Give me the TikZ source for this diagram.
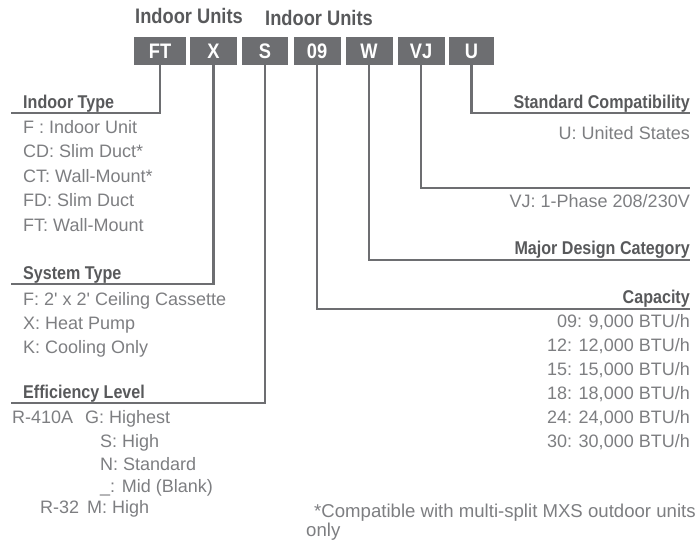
\documentclass[tikz,border=0pt]{standalone}
\usepackage{fontspec}
\setmainfont{Liberation Sans}
\newfontfamily\headfont{Liberation Sans}[FakeStretch=0.87]
\usepackage{xcolor}
\definecolor{boxgray}{RGB}{109,110,113}
\definecolor{headgray}{RGB}{88,89,91}
\definecolor{textgray}{RGB}{125,126,129}

\begin{document}
\begin{tikzpicture}[x=1pt, y=-1pt,
    codebox/.style={rectangle, fill=boxgray, text=white, minimum height=28pt,
                    inner sep=0pt, font=\headfont\bfseries\fontsize{21}{21}\selectfont},
    titlebase/.style={anchor=base west, inner sep=0pt, text=headgray,
                      font=\headfont\bfseries\fontsize{21}{21}\selectfont},
    headbase/.style={inner sep=0pt, text=headgray,
                     font=\headfont\bfseries\fontsize{18.5}{18.5}\selectfont},
    itembase/.style={inner sep=0pt, text=textgray, font=\fontsize{18}{18}\selectfont},
    link/.style={draw=boxgray, line width=2.5pt},
]
    \useasboundingbox (0,0) rectangle (700,544);

    % Titles
    \node[titlebase] (title1) at (135,23) {Indoor Units};
    \node[titlebase] (title2) at (265,25) {Indoor Units};

    % Code boxes
    \node[codebox, minimum width=52pt] (bFT) at (160,51) {FT};
    \node[codebox, minimum width=47pt] (bX) at (213.5,51) {X};
    \node[codebox, minimum width=46pt] (bS) at (265,51) {S};
    \node[codebox, minimum width=47pt] (b09) at (317,51) {09};
    \node[codebox, minimum width=47pt] (bW) at (369,51) {W};
    \node[codebox, minimum width=47pt] (bVJ) at (421,51) {VJ};
    \node[codebox, minimum width=45pt] (bU) at (471.5,51) {U};

    % Left column: indoor type
    \node[headbase, anchor=base west] (hIndoor) at (23,108) {Indoor Type};
    \node[itembase, anchor=base west] (iF) at (23,133) {F : Indoor Unit};
    \node[itembase, anchor=base west] (iCD) at (23,157.5) {CD: Slim Duct*};
    \node[itembase, anchor=base west] (iCT) at (23,182) {CT: Wall-Mount*};
    \node[itembase, anchor=base west] (iFD) at (23,206.5) {FD: Slim Duct};
    \node[itembase, anchor=base west] (iFT) at (23,231) {FT: Wall-Mount};

    % Left column: system type
    \node[headbase, anchor=base west] (hSystem) at (23,279) {System Type};
    \node[itembase, anchor=base west] (sF) at (23,305) {F: 2\textquotesingle{} x 2\textquotesingle{} Ceiling Cassette};
    \node[itembase, anchor=base west] (sX) at (23,329) {X: Heat Pump};
    \node[itembase, anchor=base west] (sK) at (23,353) {K: Cooling Only};

    % Left column: efficiency level
    \node[headbase, anchor=base west] (hEff) at (23,398) {Efficiency Level};
    \node[itembase, anchor=base west] (r410) at (12,423) {R-410A};
    \node[itembase, anchor=base west] (eG) at (85,423) {G: Highest};
    \node[itembase, anchor=base west] (eS) at (100,447) {S: High};
    \node[itembase, anchor=base west] (eN) at (100,470) {N: Standard};
    \node[itembase, anchor=base west] (eB) at (100,492) {\_: Mid (Blank)};
    \node[itembase, anchor=base west] (r32) at (40,513) {R-32};
    \node[itembase, anchor=base west] (eM) at (87,513) {M: High};

    % Right column
    \node[headbase, anchor=base east] (hStd) at (690,108) {Standard Compatibility};
    \node[itembase, anchor=base east] (cU) at (690,139) {U: United States};
    \node[itembase, anchor=base east] (cVJ) at (690,207) {VJ: 1-Phase 208/230V};
    \node[headbase, anchor=base east] (hMajor) at (690,254) {Major Design Category};
    \node[headbase, anchor=base east] (hCap) at (690,303) {Capacity};
    \node[itembase, anchor=base east] (c09) at (690,327) {09: 9,000 BTU/h};
    \node[itembase, anchor=base east] (c12) at (690,351) {12: 12,000 BTU/h};
    \node[itembase, anchor=base east] (c15) at (690,375) {15: 15,000 BTU/h};
    \node[itembase, anchor=base east] (c18) at (690,399) {18: 18,000 BTU/h};
    \node[itembase, anchor=base east] (c24) at (690,423) {24: 24,000 BTU/h};
    \node[itembase, anchor=base east] (c30) at (690,447) {30: 30,000 BTU/h};

    % Footnote
    \node[itembase, anchor=base west, font=\fontsize{18.6}{18.6}\selectfont] (foot1) at (314,517) {*Compatible with multi-split MXS outdoor units};
    \node[itembase, anchor=base west, font=\fontsize{18.6}{18.6}\selectfont] (foot2) at (306,536) {only};

    % Leader lines
    \coordinate (eFT) at (11,113);
    \coordinate (eX) at (11,284);
    \coordinate (eS) at (11,403);
    \coordinate (e09) at (690,309);
    \coordinate (eW) at (690,260);
    \coordinate (eVJ) at (690,188);
    \coordinate (eU) at (690,113);
    \draw[link] (bFT.south) |- (eFT);
    \draw[link] (bX.south) |- (eX);
    \draw[link] (bS.south) |- (eS);
    \draw[link] (b09.south) |- (e09);
    \draw[link] (bW.south) |- (eW);
    \draw[link] (bVJ.south) |- (eVJ);
    \draw[link] (bU.south) |- (eU);
\end{tikzpicture}
\end{document}
